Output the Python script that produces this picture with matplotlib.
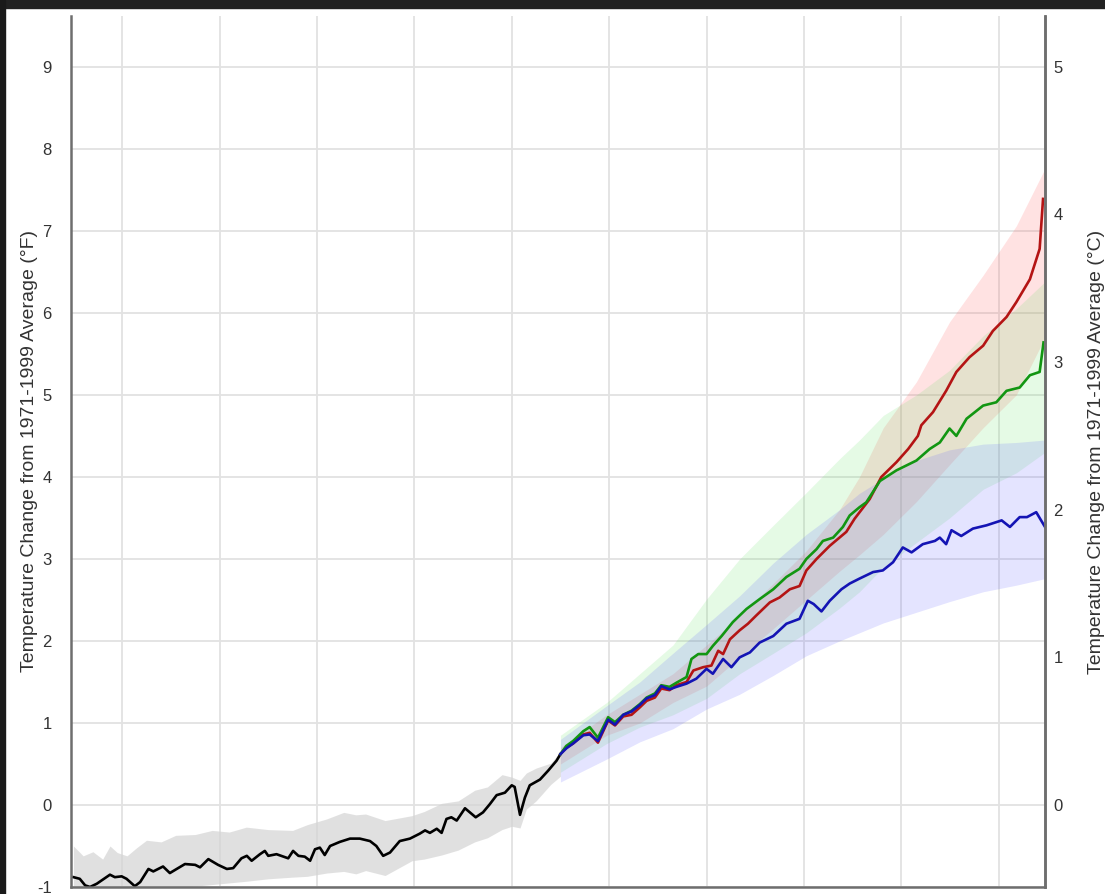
"""Global temperature change, historical run plus three emission scenarios."""

import matplotlib

matplotlib.use("Agg")
import matplotlib.pyplot as plt
from matplotlib.patches import Rectangle

plt.rcParams["font.family"] = ["Liberation Sans", "DejaVu Sans"]
plt.rcParams["axes.unicode_minus"] = False

# historical model mean (deg F)
hist_years = [
    1900.0, 1901.3, 1902.4, 1903.4, 1904.8, 1907.5, 1908.5, 1909.9, 1910.9, 1912.6,
    1913.7, 1915.4, 1916.4, 1918.4, 1919.8, 1921.2, 1922.9, 1925.0, 1926.0, 1927.7,
    1929.7, 1931.5, 1932.8, 1934.5, 1935.6, 1936.6, 1938.3, 1939.3, 1940.0, 1941.7,
    1944.1, 1945.1, 1946.2, 1947.5, 1948.6, 1949.6, 1950.6, 1951.6, 1952.7, 1954.7,
    1956.8, 1958.8, 1960.9, 1962.2, 1963.6, 1965.0, 1967.0, 1969.1, 1971.1, 1972.2,
    1973.2, 1974.6, 1975.6, 1976.6, 1977.6, 1978.7, 1980.4, 1981.4, 1982.6, 1984.1,
    1985.5, 1986.9, 1988.6, 1990.0, 1990.6, 1991.7, 1992.7, 1993.7, 1995.8, 1997.5,
    1999.2, 2000.0,
]
hist_temp = [
    -0.88, -0.90, -0.98, -1.00, -0.96, -0.85, -0.88, -0.87, -0.90, -0.99,
    -0.94, -0.78, -0.81, -0.75, -0.83, -0.78, -0.72, -0.73, -0.76, -0.66,
    -0.73, -0.78, -0.77, -0.65, -0.62, -0.68, -0.60, -0.56, -0.62, -0.60,
    -0.65, -0.56, -0.62, -0.63, -0.68, -0.54, -0.52, -0.61, -0.50, -0.45,
    -0.41, -0.41, -0.44, -0.50, -0.62, -0.58, -0.44, -0.41, -0.35, -0.31,
    -0.34, -0.29, -0.34, -0.17, -0.15, -0.19, -0.04, -0.09, -0.15, -0.09,
    0.01, 0.12, 0.15, 0.24, 0.22, -0.12, 0.09, 0.24, 0.31, 0.42,
    0.54, 0.62,
]
hist_band_years = [
    1900, 1902, 1904, 1906, 1907.5, 1909, 1911, 1913, 1915, 1918, 1921, 1925,
    1928.5, 1932, 1935.5, 1940, 1945, 1948, 1952, 1955.5, 1958, 1960, 1964,
    1969.5, 1972, 1975.6, 1979, 1982.4, 1985, 1988, 1990, 1991.7, 1993, 1995,
    1998, 2000,
]
hist_upper = [
    -0.50, -0.62, -0.57, -0.66, -0.50, -0.58, -0.62, -0.52, -0.43, -0.45, -0.37, -0.36,
    -0.31, -0.33, -0.27, -0.30, -0.31, -0.24, -0.17, -0.09, -0.12, -0.11, -0.19,
    -0.13, -0.08, 0.02, 0.05, 0.18, 0.22, 0.37, 0.34, 0.30, 0.39, 0.45,
    0.51, 0.65,
]
hist_lower = [
    -1.10, -1.10, -1.10, -1.10, -1.10, -1.10, -1.10, -1.10, -1.05, -1.02, -1.00, -0.99,
    -0.97, -0.95, -0.93, -0.90, -0.88, -0.87, -0.83, -0.81, -0.84, -0.80, -0.86,
    -0.68, -0.66, -0.61, -0.55, -0.45, -0.40, -0.30, -0.26, -0.28, -0.05, 0.05,
    0.25, 0.35,
]

# higher emissions scenario
high_years = [
    2000.0, 2001.2, 2002.6, 2004.7, 2006.0, 2007.7, 2009.8, 2011.2, 2012.9, 2014.6,
    2016.3, 2017.7, 2019.4, 2020.7, 2022.4, 2023.8, 2025.9, 2027.3, 2029.3, 2031.0,
    2032.4, 2033.4, 2034.8, 2036.8, 2038.5, 2040.2, 2043.0, 2045.0, 2047.1, 2049.1,
    2050.5, 2052.6, 2055.3, 2057.3, 2058.7, 2060.4, 2063.5, 2065.9, 2069.0, 2071.4,
    2073.4, 2074.1, 2076.5, 2079.2, 2081.3, 2084.0, 2086.8, 2088.8, 2091.6, 2093.6,
    2096.4, 2098.4, 2099.1,
]
high_temp = [
    0.62, 0.70, 0.75, 0.86, 0.88, 0.76, 1.03, 0.97, 1.08, 1.10,
    1.19, 1.27, 1.31, 1.42, 1.40, 1.46, 1.50, 1.64, 1.68, 1.70,
    1.88, 1.84, 2.02, 2.13, 2.21, 2.31, 2.47, 2.53, 2.63, 2.67,
    2.86, 3.00, 3.16, 3.26, 3.33, 3.49, 3.73, 4.00, 4.18, 4.34,
    4.50, 4.63, 4.79, 5.05, 5.28, 5.46, 5.60, 5.78, 5.95, 6.13,
    6.41, 6.78, 7.39,
]

# mid-range scenario
mid_years = [
    2000.0, 2001.2, 2002.6, 2004.7, 2006.0, 2007.7, 2009.8, 2011.2, 2012.9, 2014.6,
    2016.3, 2017.7, 2019.4, 2020.7, 2022.4, 2023.8, 2025.9, 2026.9, 2028.3, 2030.0,
    2031.3, 2033.1, 2035.4, 2038.2, 2040.9, 2043.7, 2046.4, 2049.1, 2050.5, 2052.6,
    2053.9, 2056.0, 2058.0, 2059.4, 2061.4, 2062.8, 2065.6, 2069.0, 2073.1, 2075.8,
    2077.9, 2079.9, 2081.3, 2083.4, 2086.8, 2089.5, 2091.6, 2094.3, 2096.4, 2098.4,
    2099.2,
]
mid_temp = [
    0.62, 0.72, 0.78, 0.90, 0.95, 0.82, 1.07, 1.01, 1.10, 1.15,
    1.23, 1.31, 1.36, 1.46, 1.44, 1.49, 1.56, 1.78, 1.84, 1.84,
    1.94, 2.06, 2.23, 2.39, 2.51, 2.63, 2.78, 2.88, 3.00, 3.12,
    3.22, 3.26, 3.39, 3.53, 3.63, 3.69, 3.95, 4.08, 4.20, 4.34,
    4.42, 4.59, 4.50, 4.71, 4.87, 4.91, 5.05, 5.09, 5.24, 5.28,
    5.64,
]

# lower emissions scenario
low_years = [
    2000.0, 2001.2, 2002.6, 2004.7, 2006.0, 2007.7, 2009.8, 2011.2, 2012.9, 2014.6,
    2016.3, 2017.7, 2019.4, 2020.7, 2022.4, 2023.8, 2025.9, 2027.9, 2030.0, 2031.3,
    2033.4, 2035.1, 2036.8, 2038.9, 2040.9, 2043.7, 2046.4, 2049.1, 2050.8, 2052.0,
    2053.6, 2055.3, 2057.7, 2059.4, 2061.4, 2064.2, 2066.2, 2068.3, 2070.3, 2072.1,
    2074.4, 2076.9, 2077.9, 2079.2, 2080.3, 2082.3, 2084.7, 2087.5, 2090.6, 2092.3,
    2094.3, 2095.8, 2097.7, 2099.5,
]
low_temp = [
    0.62, 0.69, 0.75, 0.85, 0.86, 0.78, 1.04, 0.98, 1.10, 1.14,
    1.22, 1.30, 1.34, 1.45, 1.41, 1.44, 1.48, 1.54, 1.66, 1.60,
    1.78, 1.68, 1.80, 1.86, 1.98, 2.06, 2.21, 2.27, 2.49, 2.45,
    2.36, 2.49, 2.63, 2.70, 2.76, 2.84, 2.86, 2.96, 3.14, 3.08,
    3.18, 3.22, 3.26, 3.18, 3.35, 3.28, 3.37, 3.41, 3.47, 3.39,
    3.51, 3.51, 3.57, 3.39,
]

# likely ranges for the scenarios
band_years = [
    2000, 2009.5, 2016.3, 2023.1, 2030, 2036.8, 2043.7, 2050.5,
    2057.3, 2061.4, 2066.3, 2073.1, 2079.9, 2086.8, 2093.6, 2099.5,
]
high_upper = [0.70, 1.10, 1.35, 1.60, 1.95, 2.30, 2.70, 3.10, 3.60, 4.00, 4.60, 5.16, 5.89, 6.46, 7.06, 7.76]
high_lower = [0.50, 0.85, 1.00, 1.25, 1.45, 1.80, 2.15, 2.50, 2.85, 3.05, 3.30, 3.70, 4.15, 4.60, 5.00, 5.70]
mid_upper = [0.85, 1.25, 1.60, 1.95, 2.51, 3.00, 3.41, 3.81, 4.22, 4.45, 4.75, 5.00, 5.30, 5.72, 6.05, 6.38]
mid_lower = [0.40, 0.75, 0.95, 1.10, 1.30, 1.60, 1.85, 2.10, 2.40, 2.60, 2.90, 3.20, 3.50, 3.85, 4.05, 4.30]
low_upper = [0.80, 1.21, 1.50, 1.85, 2.20, 2.55, 2.95, 3.30, 3.60, 3.80, 3.98, 4.20, 4.33, 4.40, 4.42, 4.45]
low_lower = [0.28, 0.56, 0.77, 0.93, 1.17, 1.35, 1.58, 1.82, 2.00, 2.10, 2.22, 2.35, 2.48, 2.60, 2.68, 2.76]

f_ticks = list(range(-1, 10))
c_ticks = list(range(0, 6))
grid_years = list(range(1910, 2100, 20))

F_MIN, F_MAX = -1.0, 9.62
TEXT = "#333333"
SPINE = "#6e6e6e"

fig = plt.figure(figsize=(11.05, 8.94), dpi=100)
ax = fig.add_axes([71 / 1105, 7 / 894, 974 / 1105, 871 / 894])

# screenshot frame along the top and left edge
fig.patches.append(Rectangle((0, 1 - 8 / 894), 1, 8 / 894, transform=fig.transFigure,
                             color="#222222", zorder=10))
fig.patches.append(Rectangle((0, 0), 5 / 1105, 1, transform=fig.transFigure,
                             color="#1a1a1a", zorder=10))

ax.fill_between(hist_band_years, hist_lower, hist_upper, color="#d4d4d4", alpha=0.7, lw=0)
ax.fill_between(band_years, high_lower, high_upper, color="#ff6060", alpha=0.18, lw=0)
ax.fill_between(band_years, mid_lower, mid_upper, color="#60e060", alpha=0.16, lw=0)
ax.fill_between(band_years, low_lower, low_upper, color="#6060ff", alpha=0.17, lw=0)

ax.plot(hist_years, hist_temp, color="black", lw=1.9, solid_joinstyle="round")
ax.plot(high_years, high_temp, color="#b41414", lw=1.9, solid_joinstyle="round")
ax.plot(mid_years, mid_temp, color="#129612", lw=1.9, solid_joinstyle="round")
ax.plot(low_years, low_temp, color="#1414b4", lw=1.9, solid_joinstyle="round")

ax.set_xlim(1899.5, 2099.5)
ax.set_ylim(F_MIN, F_MAX)
ax.set_xticks(grid_years)
ax.set_yticks(f_ticks)
ax.set_axisbelow(True)
ax.grid(True, color="#e2e2e2", lw=1.3)
ax.tick_params(axis="x", length=0, labelbottom=False)
ax.tick_params(axis="y", length=0, pad=14, labelsize=12, labelcolor=TEXT)
ax.set_ylabel("Temperature Change from 1971-1999 Average (°F)", fontsize=14, color=TEXT)
ax.yaxis.set_label_coords(-0.0339, 0.5)

ax.spines["top"].set_visible(False)
for side in ("left", "right", "bottom"):
    ax.spines[side].set_color(SPINE)
    ax.spines[side].set_linewidth(1.8)

# Celsius scale on the right
ax2 = ax.twinx()
ax2.set_ylim(F_MIN * 5 / 9, F_MAX * 5 / 9)
ax2.set_yticks(c_ticks)
ax2.tick_params(axis="y", length=0, pad=6, labelsize=12, labelcolor=TEXT)
ax2.set_ylabel("Temperature Change from 1971-1999 Average (°C)", fontsize=14, color=TEXT)
ax2.yaxis.set_label_coords(1.0441, 0.5)
for side in ("top", "left", "bottom"):
    ax2.spines[side].set_visible(False)
ax2.spines["right"].set_color(SPINE)
ax2.spines["right"].set_linewidth(1.8)

fig.savefig("out.png", dpi=100)
